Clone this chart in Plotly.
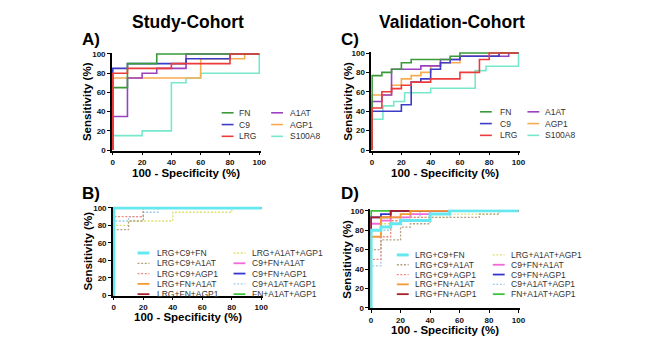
import plotly.graph_objects as go

W, H = 669, 356

# ---------------- DATA ----------------
# Panel A (Study-Cohort, single markers): ROC points (100-specificity, sensitivity)
a_names = ["FN", "C9", "LRG", "A1AT", "AGP1", "S100A8"]
a_fn_x = [0, 0, 10, 30, 100]
a_fn_y = [0, 65, 90, 100, 100]
a_c9_x = [0, 0, 10, 50, 80, 100]
a_c9_y = [0, 85, 90, 95, 100, 100]
a_lrg_x = [0, 0, 10, 40, 80, 100]
a_lrg_y = [0, 80, 85, 90, 100, 100]
a_a1at_x = [0, 0, 10, 20, 30, 50, 100]
a_a1at_y = [0, 35, 75, 80, 85, 100, 100]
a_agp1_x = [0, 0, 60, 90, 100]
a_agp1_y = [0, 75, 95, 100, 100]
a_s100_x = [0, 0, 20, 40, 50, 60, 100]
a_s100_y = [0, 15, 20, 70, 75, 80, 100]

# Panel C (Validation-Cohort, single markers)
c_fn_x = [0, 0, 6.7, 13.3, 20, 26.7, 53.3, 60, 100]
c_fn_y = [0, 76.7, 80, 83.3, 90, 93.3, 96.7, 100, 100]
c_c9_x = [0, 0, 20, 26.7, 33.3, 40, 46.7, 53.3, 60, 86.7, 100]
c_c9_y = [0, 40, 46.7, 70, 73.3, 83.3, 90, 93.3, 96.7, 100, 100]
c_lrg_x = [0, 0, 6.7, 13.3, 20, 26.7, 40, 60, 73.3, 80, 100]
c_lrg_y = [0, 43.3, 60, 63.3, 66.7, 70, 73.3, 80, 93.3, 100, 100]
c_a1at_x = [0, 0, 6.7, 13.3, 33.3, 46.7, 60, 93.3, 100]
c_a1at_y = [0, 50, 56.7, 83.3, 86.7, 93.3, 96.7, 100, 100]
c_agp1_x = [0, 0, 13.3, 20, 26.7, 33.3, 40, 46.7, 60, 86.7, 100]
c_agp1_y = [0, 56.7, 66.7, 73.3, 76.7, 80, 86.7, 90, 96.7, 100, 100]
c_s100_x = [0, 0, 7.4, 14.8, 22.2, 40, 70.4, 77.8, 100]
c_s100_y = [0, 31.8, 45.5, 50, 59.1, 63.6, 81.8, 86.4, 100]

# Panel B (Study-Cohort, marker combinations)
b_names = ["LRG+C9+FN", "LRG+C9+A1AT", "LRG+C9+AGP1", "LRG+FN+A1AT", "LRG+FN+AGP1",
           "LRG+A1AT+AGP1", "C9+FN+A1AT", "C9+FN+AGP1", "C9+A1AT+AGP1", "FN+A1AT+AGP1"]
b_lrg_c9_fn_x = [0, 0, 100]
b_lrg_c9_fn_y = [0, 100, 100]
b_lrg_c9_a1at_x = [0, 0, 10, 20, 100]
b_lrg_c9_a1at_y = [0, 75, 85, 100, 100]
b_lrg_c9_agp1_x = [0, 0, 20, 100]
b_lrg_c9_agp1_y = [0, 90, 100, 100]
b_lrg_fn_a1at_x = [0, 0, 100]
b_lrg_fn_a1at_y = [0, 100, 100]
b_lrg_fn_agp1_x = [0, 0, 100]
b_lrg_fn_agp1_y = [0, 100, 100]
b_lrg_a1at_agp1_x = [0, 0, 10, 40, 80, 100]
b_lrg_a1at_agp1_y = [0, 80, 85, 95, 100, 100]
b_c9_fn_a1at_x = [0, 0, 100]
b_c9_fn_a1at_y = [0, 100, 100]
b_c9_fn_agp1_x = [0, 0, 100]
b_c9_fn_agp1_y = [0, 100, 100]
b_c9_a1at_agp1_x = [0, 0, 10, 20, 30, 100]
b_c9_a1at_agp1_y = [0, 85, 90, 95, 100, 100]
b_fn_a1at_agp1_x = [0, 0, 100]
b_fn_a1at_agp1_y = [0, 100, 100]

# Panel D (Validation-Cohort, marker combinations)
d_lrg_c9_fn_x = [0, 0, 6.7, 13.3, 20, 40, 53.3, 100]
d_lrg_c9_fn_y = [0, 80, 83.3, 86.7, 90, 96.7, 100, 100]
d_lrg_c9_a1at_x = [0, 0, 6.7, 20, 26.7, 40, 73.3, 86.7, 100]
d_lrg_c9_a1at_y = [0, 60, 70, 83.3, 86.7, 93.3, 96.7, 100, 100]
d_lrg_c9_agp1_x = [0, 0, 6.7, 13.3, 26.7, 40, 100]
d_lrg_c9_agp1_y = [0, 50, 73.3, 90, 93.3, 100, 100]
d_lrg_fn_a1at_x = [0, 0, 6.7, 20, 26.7, 100]
d_lrg_fn_a1at_y = [0, 73.3, 93.3, 96.7, 100, 100]
d_lrg_fn_agp1_x = [0, 0, 13.3, 100]
d_lrg_fn_agp1_y = [0, 93.3, 100, 100]
d_lrg_a1at_agp1_x = [0, 0, 6.7, 13.3, 26.7, 53.3, 86.7, 100]
d_lrg_a1at_agp1_y = [0, 80, 86.7, 90, 93.3, 96.7, 100, 100]
d_c9_fn_a1at_x = [0, 0, 6.7, 13.3, 26.7, 40, 100]
d_c9_fn_a1at_y = [0, 86.7, 90, 93.3, 96.7, 100, 100]
d_c9_fn_agp1_x = [0, 0, 6.7, 13.3, 100]
d_c9_fn_agp1_y = [0, 93.3, 96.7, 100, 100]
d_c9_a1at_agp1_x = [0, 0, 6.7, 13.3, 20, 33.3, 100]
d_c9_a1at_agp1_y = [0, 43.3, 80, 90, 93.3, 100, 100]
d_fn_a1at_agp1_x = [0, 0, 100]
d_fn_a1at_agp1_y = [0, 100, 100]

tick_vals = [0, 20, 40, 60, 80, 100]
tick_text = ["0", "20", "40", "60", "80", "100"]

# ---------------- STYLE ----------------
DOT = "2px,1.6px"
single_colors = {"FN": "#3a9a3a", "C9": "#3c3cc8", "LRG": "#ec3b3b",
                 "A1AT": "#9a40c0", "AGP1": "#f6ac50", "S100A8": "#78e8cc"}
combo_styles = {
    "LRG+C9+FN": ("#66e8f0", "solid", 3),
    "LRG+C9+A1AT": ("#b3a182", DOT, 1.3),
    "LRG+C9+AGP1": ("#f08a80", DOT, 1.3),
    "LRG+FN+A1AT": ("#f39a30", "solid", 1.8),
    "LRG+FN+AGP1": ("#a8202c", "solid", 1.8),
    "LRG+A1AT+AGP1": ("#dede70", DOT, 1.3),
    "C9+FN+A1AT": ("#f06ad8", "solid", 1.8),
    "C9+FN+AGP1": ("#3535d0", "solid", 1.8),
    "C9+A1AT+AGP1": ("#a0cce8", DOT, 1.3),
    "FN+A1AT+AGP1": ("#3cc23c", "solid", 1.8),
}

FONT = "Liberation Sans, Arial, sans-serif"
XR = [-0.6, 101.0]
YR = [-0.6, 101.5]

fig = go.Figure()


def px2fx(x):
    return x / W


def px2fy(y):
    return 1 - y / H


def setup_axes(n, x0, x100, y0, y100):
    ppx = (x100 - x0) / 100.0
    ppy = (y0 - y100) / 100.0
    left = x0 + XR[0] * ppx
    right = x0 + XR[1] * ppx
    bottom = y0 - YR[0] * ppy
    top = y0 - YR[1] * ppy
    sfx = "" if n == 1 else str(n)
    common = dict(showgrid=False, zeroline=False, showline=True, linecolor="black",
                  linewidth=1.5, ticks="outside", ticklen=3, tickwidth=1.3,
                  tickcolor="black", tickvals=tick_vals, ticktext=tick_text,
                  tickfont=dict(family=FONT, size=8, color="#111", weight="bold"),
                  layer="below traces", fixedrange=True)
    fig.layout["xaxis" + sfx] = dict(domain=[px2fx(left), px2fx(right)], range=XR,
                                     anchor="y" + sfx, **common)
    fig.layout["yaxis" + sfx] = dict(domain=[px2fy(bottom), px2fy(top)], range=YR,
                                     anchor="x" + sfx, **common)
    return "x" + sfx, "y" + sfx


def add_curve(xa, ya, xs, ys, color, dash, width):
    fig.add_trace(go.Scatter(x=xs, y=ys, mode="lines", line_shape="hv",
                             line=dict(color=color, dash=dash, width=width),
                             xaxis=xa, yaxis=ya, showlegend=False, hoverinfo="skip"))


annotations = []
shapes = []


def text(x, y, s, size, bold=False, xanchor="center", angle=0, color="black"):
    annotations.append(dict(x=px2fx(x), y=px2fy(y), xref="paper", yref="paper",
                            text=s, showarrow=False, xanchor=xanchor, yanchor="middle",
                            textangle=angle,
                            font=dict(family=FONT, size=size, color=color,
                                      weight="bold" if bold else "normal")))


def legend_item(x_line, x_text, y, name, color, dash, width):
    shapes.append(dict(type="line", xref="paper", yref="paper",
                       x0=px2fx(x_line), x1=px2fx(x_line + 12), y0=px2fy(y), y1=px2fy(y),
                       line=dict(color=color, dash=dash, width=width)))
    text(x_text, y, name, 8.5, xanchor="left", color="#333")


def axis_titles(x0, x100, y0, y100, xt_y, yt_x):
    text((x0 + x100) / 2, xt_y, "100 - Specificity (%)", 11.5, bold=True)
    text(yt_x, (y0 + y100) / 2, "Sensitivity (%)", 11.5, bold=True, angle=-90)


# ---------------- PANEL A ----------------
xa, ya = setup_axes(1, 113, 261, 150, 52)
a_series = {"FN": (a_fn_x, a_fn_y), "C9": (a_c9_x, a_c9_y), "LRG": (a_lrg_x, a_lrg_y),
            "A1AT": (a_a1at_x, a_a1at_y), "AGP1": (a_agp1_x, a_agp1_y),
            "S100A8": (a_s100_x, a_s100_y)}
for nm in ["S100A8", "AGP1", "A1AT", "C9", "FN", "LRG"]:
    add_curve(xa, ya, *a_series[nm], single_colors[nm], "solid", 1.6)
axis_titles(113, 261, 150, 52, 173, 87)

# ---------------- PANEL C ----------------
xc, yc = setup_axes(2, 375, 523, 150, 51)
c_series = {"FN": (c_fn_x, c_fn_y), "C9": (c_c9_x, c_c9_y), "LRG": (c_lrg_x, c_lrg_y),
            "A1AT": (c_a1at_x, c_a1at_y), "AGP1": (c_agp1_x, c_agp1_y),
            "S100A8": (c_s100_x, c_s100_y)}
for nm in ["S100A8", "AGP1", "A1AT", "C9", "FN", "LRG"]:
    add_curve(xc, yc, *c_series[nm], single_colors[nm], "solid", 1.6)
axis_titles(375, 523, 150, 51, 173, 350)

# ---------------- PANEL B ----------------
xb, yb = setup_axes(3, 114, 263, 298, 209)
b_series = [(b_lrg_c9_fn_x, b_lrg_c9_fn_y), (b_lrg_c9_a1at_x, b_lrg_c9_a1at_y),
            (b_lrg_c9_agp1_x, b_lrg_c9_agp1_y), (b_lrg_fn_a1at_x, b_lrg_fn_a1at_y),
            (b_lrg_fn_agp1_x, b_lrg_fn_agp1_y), (b_lrg_a1at_agp1_x, b_lrg_a1at_agp1_y),
            (b_c9_fn_a1at_x, b_c9_fn_a1at_y), (b_c9_fn_agp1_x, b_c9_fn_agp1_y),
            (b_c9_a1at_agp1_x, b_c9_a1at_agp1_y), (b_fn_a1at_agp1_x, b_fn_a1at_agp1_y)]
for nm, (xs, ys) in reversed(list(zip(b_names, b_series))):
    c, d, w = combo_styles[nm]
    add_curve(xb, yb, xs, ys, c, d, w)
axis_titles(114, 263, 298, 209, 320, 87)

# ---------------- PANEL D ----------------
xd, yd = setup_axes(4, 374, 523, 311, 212)
d_series = [(d_lrg_c9_fn_x, d_lrg_c9_fn_y), (d_lrg_c9_a1at_x, d_lrg_c9_a1at_y),
            (d_lrg_c9_agp1_x, d_lrg_c9_agp1_y), (d_lrg_fn_a1at_x, d_lrg_fn_a1at_y),
            (d_lrg_fn_agp1_x, d_lrg_fn_agp1_y), (d_lrg_a1at_agp1_x, d_lrg_a1at_agp1_y),
            (d_c9_fn_a1at_x, d_c9_fn_a1at_y), (d_c9_fn_agp1_x, d_c9_fn_agp1_y),
            (d_c9_a1at_agp1_x, d_c9_a1at_agp1_y), (d_fn_a1at_agp1_x, d_fn_a1at_agp1_y)]
for nm, (xs, ys) in reversed(list(zip(b_names, d_series))):
    c, d, w = combo_styles[nm]
    add_curve(xd, yd, xs, ys, c, d, w)
axis_titles(374, 523, 311, 212, 334, 350)

# ---------------- LEGENDS ----------------
for i, nm in enumerate(a_names):
    col, row = divmod(i, 3)
    xl, xt = (223, 239) if col == 0 else (273, 290)
    legend_item(xl, xt, 112 + 12 * row, nm, single_colors[nm], "solid", 1.6)
    xl, xt = (484, 502) if col == 0 else (532, 548)
    legend_item(xl, xt, 111 + 12 * row, nm, single_colors[nm], "solid", 1.6)

for i, nm in enumerate(b_names):
    col, row = divmod(i, 5)
    c, d, w = combo_styles[nm]
    xl, xt = (138, 156) if col == 0 else (235, 252)
    legend_item(xl, xt, 255 + 10.5 * row, nm, c, d, w)
    xl, xt = (400, 416) if col == 0 else (497, 513)
    legend_item(xl, xt, 257 + 10 * row, nm, c, d, w)

# ---------------- TITLES / PANEL LETTERS ----------------
text(189, 19, "Study-Cohort", 17.5, bold=True)
text(456, 19, "Validation-Cohort", 17.5, bold=True)
text(80, 37, "A)", 17, bold=True, xanchor="left")
text(342, 37, "C)", 17, bold=True, xanchor="left")
text(80, 194, "B)", 17, bold=True, xanchor="left")
text(342, 194, "D)", 17, bold=True, xanchor="left")

fig.update_layout(width=W, height=H, margin=dict(l=0, r=0, t=0, b=0),
                  paper_bgcolor="white", plot_bgcolor="white",
                  annotations=annotations, shapes=shapes, showlegend=False)

fig.write_html("out.html", config={"displayModeBar": False},
               post_script="document.body.style.margin='0';")
